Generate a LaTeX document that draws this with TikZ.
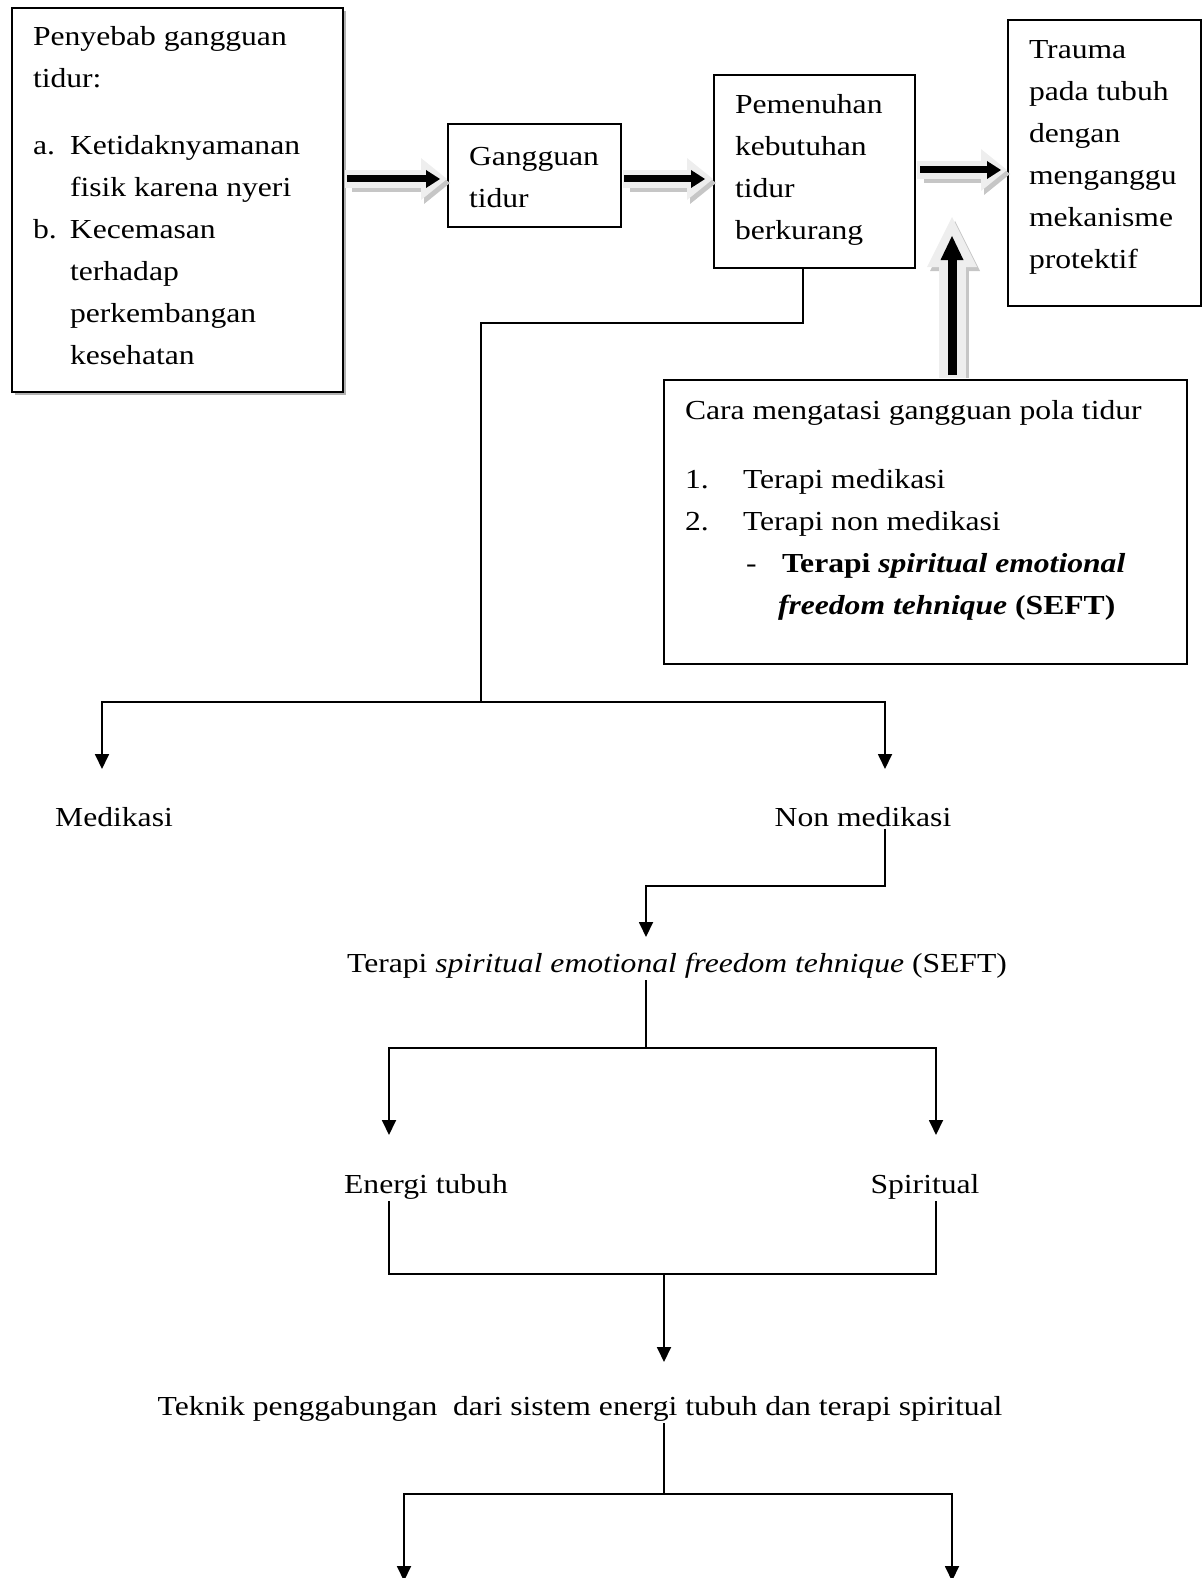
\documentclass[tikz,border=0pt]{standalone}
\usepackage{fontspec}
\setmainfont{Liberation Serif}[FakeStretch=1.15]
\usetikzlibrary{arrows.meta,shadows}
\newcommand{\boxtext}[4]{\parbox[c][#2][t]{#1}{\leftskip=10.5pt\rightskip=0pt plus 1fil\parindent=0pt\rule{0pt}{#3}#4}}
\newcommand{\fatarrow}[5]{%
\draw[fatshadow=#1] (#4) -- (#5);%
\draw[fatglow=#1] (#4) -- (#5);%
\draw[fatcore=#2,#3] (#4) -- (#5);}

\begin{document}
\begin{tikzpicture}[x=0.5pt,y=-0.5pt,
 every node/.style={font=\fontsize{13.75pt}{21pt}\selectfont},
 box/.style={draw, line width=1pt, inner sep=0pt, anchor=north west, fill=white},
 lbl/.style={anchor=base, inner sep=1pt},
 link/.style={line width=0.9pt},
 arrow/.style={link, -{Triangle[length=7.5pt,width=7pt]}},
 fatglow/.style n args={3}{line width=#1, draw=gray!13, shorten <=0.5pt, -{Triangle[length=#2,width=#3,line width=0pt]}},
 fatshadow/.style n args={3}{fatglow={#1}{#2}{#3}, draw=gray!45, shorten <=2.5pt, transform canvas={shift={(3,4)}}},
 fatcore/.style n args={3}{line width=#1, draw=black, -{Triangle[length=#2,width=#3,line width=0pt]}}]
\useasboundingbox (0,0) rectangle (1203,1578);
% boxes
\node[box, drop shadow={shadow xshift=1.5pt, shadow yshift=-1.5pt, fill=gray!60, opacity=1}] (cause) at (11,7) {\boxtext{165.5pt}{192pt}{19pt}{Penyebab gangguan\\ tidur:\par\vspace{12.5pt}
 \hangindent=18.5pt\makebox[18.5pt][l]{a.}Ketidaknyamanan\\ fisik karena nyeri\par
 \hangindent=18.5pt\makebox[18.5pt][l]{b.}Kecemasan\\ terhadap\\ perkembangan\\ kesehatan}};
\node[box] (gap) at (447,123) {\boxtext{86.5pt}{51.5pt}{21pt}{Gangguan\\ tidur}};
\node[box] (need) at (713,74) {\boxtext{100.5pt}{96.5pt}{19.5pt}{Pemenuhan\\ kebutuhan\\ tidur\\ berkurang}};
\node[box] (trauma) at (1007,19) {\boxtext{96.5pt}{143pt}{19.5pt}{Trauma\\ pada tubuh\\ dengan\\ menganggu\\ mekanisme\\ protektif}};
\node[box] (cara) at (663,379) {\boxtext{261.5pt}{142pt}{19.5pt}{Cara mengatasi gangguan pola tidur\par\vspace{13.5pt}
 \makebox[29pt][l]{1.}Terapi medikasi\par
 \makebox[29pt][l]{2.}Terapi non medikasi\par
 \hangindent=46.5pt\hspace*{30.5pt}\makebox[18pt][l]{-}\textbf{Terapi \textit{spiritual emotional}}\\ \textbf{\textit{freedom tehnique} (SEFT)}}};
% labels
\node[lbl] (medi) at (114,826) {Medikasi};
\node[lbl] (nonmedi) at (863,826) {Non medikasi};
\node[lbl] (seft) at (677,972) {Terapi \textit{spiritual emotional freedom tehnique} (SEFT)};
\node[lbl] (energi) at (426,1193) {Energi tubuh};
\node[lbl] (spirit) at (925,1193) {Spiritual};
\node[lbl] (teknik) at (580,1415) {Teknik penggabungan\ \ dari sistem energi tubuh dan terapi spiritual};
% block arrows
\coordinate (row1) at (0,179);
\coordinate (row2) at (0,170);
\coordinate (upx) at (952,217);
\fatarrow{{9pt}{13pt}{21pt}}{{3.5pt}{7pt}{9pt}}{shorten <=1.5pt, shorten >=3.5pt}{cause.east |- row1}{gap.west |- row1}
\fatarrow{{9pt}{13pt}{21pt}}{{3.5pt}{7pt}{9pt}}{shorten <=1pt, shorten >=4pt}{gap.east |- row1}{need.west |- row1}
\fatarrow{{9pt}{13pt}{21pt}}{{3.5pt}{7pt}{9pt}}{shorten <=2pt, shorten >=3pt}{need.east |- row2}{trauma.west |- row2}
\fatarrow{{13.5pt}{25pt}{25pt}}{{4.5pt}{12pt}{11.5pt}}{shorten <=2pt, shorten >=9.5pt}{cara.north -| upx}{upx}
% tree
\coordinate (k1) at (803,323);
\coordinate (k2) at (481,702);
\coordinate (medtip) at (102,769);
\coordinate (nontip) at (885,769);
\draw[link] (need.south -| k1) -- (k1) -| (k2);
\draw[arrow] (k2) -| (medtip);
\draw[arrow] (k2) -| (nontip);
\coordinate (k3) at (646,886);
\coordinate (sefttip) at (646,937);
\draw[arrow] (nonmedi.south -| nontip) |- (k3) -- (sefttip);
\coordinate (k4) at (646,1048);
\coordinate (engtip) at (389,1135);
\coordinate (spitip) at (936,1135);
\draw[link] (seft.south -| k4) -- (k4);
\draw[arrow] (k4) -| (engtip);
\draw[arrow] (k4) -| (spitip);
\coordinate (k5) at (664,1274);
\coordinate (teknitip) at (664,1362);
\draw[link] (energi.south -| engtip) |- (k5) -| (spirit.south -| spitip);
\draw[arrow] (k5) -- (teknitip);
\coordinate (k6) at (664,1494);
\coordinate (lowl) at (404,1581);
\coordinate (lowr) at (952,1581);
\draw[link] (teknik.south -| k6) -- (k6);
\draw[arrow] (k6) -| (lowl);
\draw[arrow] (k6) -| (lowr);
\end{tikzpicture}
\end{document}
